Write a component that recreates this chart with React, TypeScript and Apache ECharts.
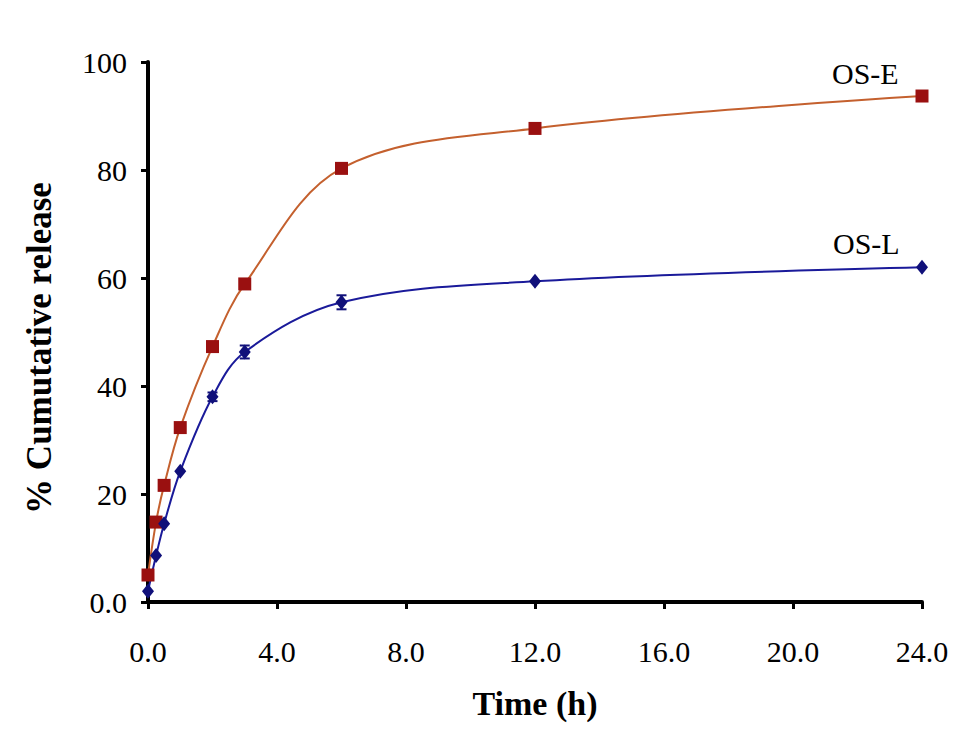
import React, { useEffect, useRef } from "react";
import * as echarts from "echarts";

const timesE = [0, 0.25, 0.5, 1, 2, 3, 6, 12, 24];
const releaseE = [5.0, 14.8, 21.6, 32.3, 47.3, 58.9, 80.3, 87.7, 93.7];
const timesL = [0, 0.25, 0.5, 1, 2, 3, 6, 12, 24];
const releaseL = [2.0, 8.6, 14.5, 24.2, 38.0, 46.3, 55.5, 59.4, 62.0];
const errL = [0, 0, 0, 0, 0.8, 1.2, 1.3, 0, 0];
const xTicks = { min: 0, max: 24, interval: 4 };
const yTicks = { min: 0, max: 100, interval: 20 };
const seriesNames = ["OS-E", "OS-L"];

const FONT = "'Liberation Serif', 'Times New Roman', serif";

export default function App() {
  const ref = useRef<HTMLDivElement>(null);
  useEffect(() => {
    if (!ref.current) return;
    const chart = echarts.init(ref.current, undefined, { renderer: "svg" });
    const errData = timesL
      .map((t, i) => [t, releaseL[i], errL[i]])
      .filter((d) => d[2] > 0);
    chart.setOption({
      animation: false,
      backgroundColor: "#ffffff",
      grid: { left: 140, right: 37, top: 54, bottom: 146, containLabel: false },
      xAxis: {
        type: "value",
        min: xTicks.min,
        max: xTicks.max,
        interval: xTicks.interval,
        name: "Time (h)",
        nameLocation: "middle",
        nameGap: 84,
        nameTextStyle: { fontFamily: FONT, fontSize: 34, fontWeight: "bold", color: "#000" },
        axisLine: { show: true, lineStyle: { color: "#000", width: 4 } },
        axisTick: { show: true, inside: false, length: 7, lineStyle: { color: "#000", width: 3 } },
        axisLabel: {
          margin: 34,
          fontFamily: FONT,
          fontSize: 30,
          color: "#000",
          formatter: (v: number) => v.toFixed(1),
        },
        splitLine: { show: false },
      },
      yAxis: {
        type: "value",
        min: yTicks.min,
        max: yTicks.max,
        interval: yTicks.interval,
        name: "% Cumutative release",
        nameLocation: "middle",
        nameGap: 91,
        nameRotate: 90,
        nameTextStyle: {
          fontFamily: FONT,
          fontSize: 35,
          fontWeight: "bold",
          color: "#000",
          padding: [0, 32, 0, 0],
        },
        axisLine: { show: true, lineStyle: { color: "#000", width: 4 } },
        axisTick: { show: true, inside: false, length: 7, lineStyle: { color: "#000", width: 3 } },
        axisLabel: {
          margin: 21,
          fontFamily: FONT,
          fontSize: 30,
          color: "#000",
          formatter: (v: number) => (v === 0 ? "0.0" : String(v)),
        },
        splitLine: { show: false },
      },
      series: [
        {
          name: seriesNames[0],
          type: "line",
          smooth: 0.35,
          data: timesE.map((t, i) => [t, releaseE[i]]),
          symbol: "rect",
          symbolSize: 13,
          itemStyle: { color: "#9A1010" },
          lineStyle: { color: "#C4602E", width: 2 },
          endLabel: {
            show: true,
            formatter: seriesNames[0],
            fontFamily: FONT,
            fontSize: 30,
            color: "#000",
            offset: [-98, -23],
          },
          z: 3,
        },
        {
          name: seriesNames[1],
          type: "line",
          smooth: 0.35,
          data: timesL.map((t, i) => [t, releaseL[i]]),
          symbol: "diamond",
          symbolSize: [12, 15],
          itemStyle: { color: "#10107A" },
          lineStyle: { color: "#1A1A9A", width: 2 },
          endLabel: {
            show: true,
            formatter: seriesNames[1],
            fontFamily: FONT,
            fontSize: 30,
            color: "#000",
            offset: [-97, -24],
          },
          z: 3,
        },
        {
          type: "custom",
          data: errData,
          z: 4,
          renderItem: (params: any, api: any) => {
            const x = api.value(0);
            const y = api.value(1);
            const e = api.value(2);
            const top = api.coord([x, y + e]);
            const bot = api.coord([x, y - e]);
            const w = 5;
            const style = { stroke: "#10107A", lineWidth: 2 };
            return {
              type: "group",
              children: [
                { type: "line", shape: { x1: top[0], y1: top[1], x2: bot[0], y2: bot[1] }, style },
                { type: "line", shape: { x1: top[0] - w, y1: top[1], x2: top[0] + w, y2: top[1] }, style },
                { type: "line", shape: { x1: bot[0] - w, y1: bot[1], x2: bot[0] + w, y2: bot[1] }, style },
              ],
            };
          },
        },
      ],
    });
    return () => chart.dispose();
  }, []);
  return <div ref={ref} style={{ width: 951, height: 740 }} />;
}
